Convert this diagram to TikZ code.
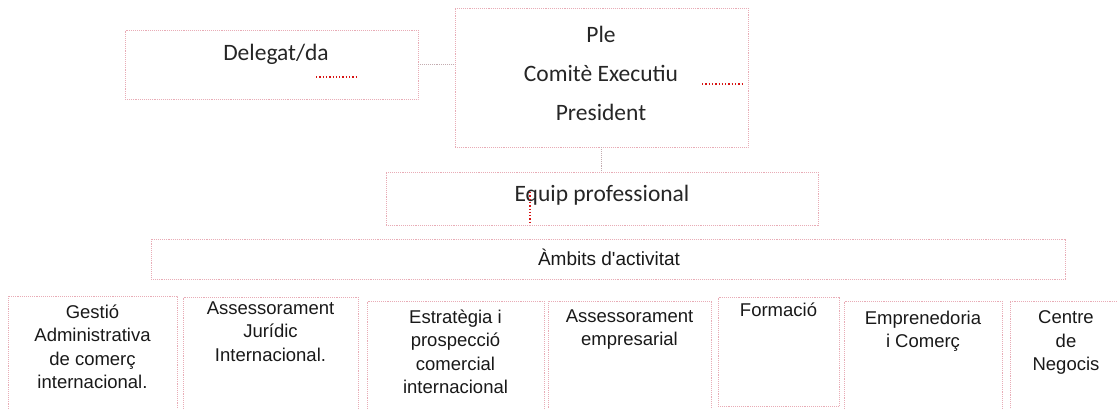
\documentclass[tikz,border=0pt]{standalone}
\usepackage{fontspec}
\setmainfont{Carlito}
\newfontfamily\arialfont{Liberation Sans}
\definecolor{boxline}{RGB}{232,172,182}
\definecolor{joinline}{RGB}{195,172,176}
\definecolor{spellred}{RGB}{215,20,20}

\begin{document}
\begin{tikzpicture}[x=1pt, y=-1pt]
            \tikzstyle{unit}=[rectangle,draw=boxline,densely dotted,line width=0.9pt,inner sep=0pt]
            \tikzstyle{toptext}=[font=\fontsize{23.5}{39}\selectfont,text=black!85,align=center,inner sep=0pt]
            \tikzstyle{areatext}=[font=\arialfont\fontsize{18.5}{23.5}\selectfont,text=black!90,align=center,anchor=north,inner sep=0pt]
            \tikzstyle{link}=[draw=joinline,densely dotted,line width=0.9pt]
            \tikzstyle{squiggle}=[draw=spellred,dotted,line width=1.3pt]

            \useasboundingbox (0,0) rectangle (1117,408);

            % top levels
            \node[unit,minimum width=293pt,minimum height=69pt]  (D_1) at (271.5,64.5) {};
            \node[toptext] (D_t) at (276,54) {Delegat/da};
            \node[unit,minimum width=293pt,minimum height=139pt] (P_1) at (601.5,77.5) {};
            \node[toptext] (P_t) at (601,73) {Ple\\Comitè Executiu\\President};
            \node[unit,minimum width=432pt,minimum height=53pt]  (E_1) at (602,198.5) {};
            \node[toptext] (E_t) at (602,195) {Equip professional};
            \node[unit,minimum width=914pt,minimum height=40pt]  (M_1) at (608,259) {};
            \node[areatext,anchor=center,font=\arialfont\fontsize{19}{24}\selectfont] (M_t) at (609,257) {Àmbits d'activitat};

            % areas
            \node[unit,minimum width=169pt,minimum height=116pt] (A_1) at (92.5,354)  {};
            \node[unit,minimum width=175pt,minimum height=115pt] (A_2) at (270.5,354.5) {};
            \node[unit,minimum width=177pt,minimum height=111pt] (A_3) at (455.5,356.5) {};
            \node[unit,minimum width=163pt,minimum height=111pt] (A_4) at (629.5,356.5) {};
            \node[unit,minimum width=121pt,minimum height=109pt] (A_5) at (778.5,351.5) {};
            \node[unit,minimum width=158pt,minimum height=111pt] (A_6) at (923,356.5)   {};
            \node[unit,minimum width=112pt,minimum height=111pt] (A_7) at (1066,356.5)  {};

            \node[areatext] (A_1t) at ([yshift=-9pt]A_1.north) {Gestió\\Administrativa\\de comerç\\internacional.};
            \node[areatext] (A_2t) at ([yshift=-5pt]A_2.north)  {Assessorament\\Jurídic\\Internacional.};
            \node[areatext] (A_3t) at ([yshift=-9pt]A_3.north) {Estratègia i\\prospecció\\comercial\\internacional};
            \node[areatext] (A_4t) at ([yshift=-9pt]A_4.north) {Assessorament\\empresarial};
            \node[areatext] (A_5t) at ([yshift=-6pt]A_5.north) {Formació};
            \node[areatext] (A_6t) at ([yshift=-10pt]A_6.north) {Emprenedoria\\i Comerç};
            \node[areatext] (A_7t) at ([yshift=-10pt]A_7.north) {Centre\\de\\Negocis};

            \draw[link] (D_1.east) -- (D_1.east -| P_1.west);
            \draw[link] (P_1.south) -- (P_1.south |- E_1.north);

            % spelling marks
            \draw[squiggle] (316,77) -- (357,77);
            \draw[squiggle] (702,84) -- (742,84);
            \draw[squiggle] (530,192) -- (530,224);
        \end{tikzpicture}
\end{document}
